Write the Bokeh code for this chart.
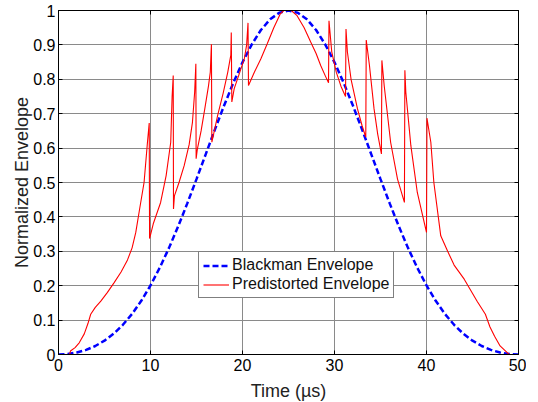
from bokeh.plotting import figure
from bokeh.models import (LinearAxis, FixedTicker, Legend, LegendItem, Range1d,
                          CustomJSTickFormatter, CustomLabelingPolicy)
from bokeh.embed import file_html
from bokeh.resources import INLINE

# ---- data ----
blackman_t = list(range(0, 51))
blackman_half = [0.0, 0.0014, 0.0058, 0.0134, 0.0247, 0.0402, 0.0605, 0.0863, 0.1180, 0.1561,
                 0.2008, 0.2519, 0.3092, 0.3720, 0.4393, 0.5098, 0.5819, 0.6539, 0.7237, 0.7895,
                 0.8492, 0.9010, 0.9432, 0.9744, 0.9935, 1.0]
blackman_v = blackman_half + blackman_half[-2::-1]

red_t = [0, 1.2, 1.3, 1.8, 2.25, 2.8, 3.2, 3.5, 4.0, 4.6, 5.3, 6.05, 6.8, 7.5, 8.0, 8.4, 8.8, 9.3, 9.67, 9.86, 9.9,
         10.3, 11.1, 11.7, 12.2, 12.35, 12.47, 12.5,
         12.6, 13.1, 13.66, 14.2, 14.56, 14.8, 14.93, 14.96,
         15.1, 15.5, 15.9, 16.3, 16.5, 16.62, 16.67,
         17.3, 17.9, 18.4, 18.73, 18.78, 18.84,
         19.1, 19.7, 20.2, 20.45, 20.6, 20.65,
         21.3, 22.0, 22.7, 23.4, 24.1, 24.5, 25.3, 25.9, 26.7, 27.4, 28.0, 28.5, 29.0, 29.35, 29.4,
         29.7, 30.2, 30.7, 31.2, 31.25,
         31.4, 31.8, 32.5, 33.0, 33.4, 33.45,
         33.8, 34.3, 34.7, 35.1, 35.15,
         35.4, 36.1, 36.85, 37.6, 37.65,
         37.75, 38.3, 39.0, 40.0, 40.05,
         40.47, 40.8, 41.55, 42.3, 43.0, 44.1, 45.5, 46.4, 46.9, 47.4, 48.0, 48.8, 49.0, 50]
red_v = [0, 0, 0.01, 0.02, 0.034, 0.06, 0.09, 0.117, 0.137, 0.155, 0.18, 0.209, 0.24, 0.275, 0.31, 0.355, 0.42, 0.5, 0.617, 0.673, 0.337,
         0.38, 0.442, 0.52, 0.617, 0.75, 0.811, 0.423,
         0.461, 0.50, 0.549, 0.61, 0.675, 0.763, 0.845, 0.569,
         0.598, 0.65, 0.714, 0.78, 0.821, 0.902, 0.617,
         0.695, 0.76, 0.821, 0.87, 0.936, 0.734,
         0.773, 0.82, 0.86, 0.90, 0.964, 0.782,
         0.821, 0.86, 0.904, 0.95, 0.99, 1.0, 1.0, 0.986, 0.95, 0.909, 0.875, 0.84, 0.81, 0.79, 0.97,
         0.88, 0.82, 0.78, 0.75, 0.946,
         0.88, 0.80, 0.714, 0.665, 0.632, 0.914,
         0.84, 0.714, 0.64, 0.583, 0.855,
         0.782, 0.617, 0.51, 0.442, 0.826,
         0.763, 0.607, 0.471, 0.355, 0.687,
         0.617, 0.5, 0.345, 0.30, 0.26, 0.219, 0.155, 0.117, 0.08, 0.053, 0.025, 0.005, 0, 0]

x_ticks = [0, 10, 20, 30, 40, 50]
y_ticks = [0, 0.1, 0.2, 0.3, 0.4, 0.5, 0.6, 0.7, 0.8, 0.9, 1.0]
x_label = "Time (µs)"
y_label = "Normalized Envelope"
legend_labels = ["Blackman Envelope", "Predistorted Envelope"]

FONT = "Liberation Sans"

p = figure(frame_width=460, frame_height=344, output_backend="svg", toolbar_location=None,
           x_range=Range1d(0, 50), y_range=Range1d(0, 1),
           min_border_left=58, min_border_right=8, min_border_top=10, min_border_bottom=42)
p.background_fill_color = "white"
p.border_fill_color = "white"
p.outline_line_color = "black"
p.outline_line_width = 1

fmt = CustomJSTickFormatter(code="return (Math.round(tick*10)/10).toString();")

p.xaxis.ticker = FixedTicker(ticks=x_ticks)
p.yaxis.ticker = FixedTicker(ticks=y_ticks)
p.yaxis.formatter = fmt
for ax in (p.xaxis, p.yaxis):
    ax.major_tick_in = 4
    ax.major_tick_out = 0
    ax.minor_tick_line_color = None
    ax.axis_line_color = "black"
    ax.major_tick_line_color = "black"
    ax.major_label_text_font = FONT
    ax.major_label_text_font_size = "16px"
    ax.major_label_text_color = "black"
    ax.axis_label_text_font = FONT
    ax.axis_label_text_font_size = "18px"
    ax.axis_label_text_font_style = "normal"
    ax.axis_label_text_color = "#222222"
p.xaxis.axis_label = x_label
p.yaxis.axis_label = y_label
p.xaxis.major_label_standoff = 4
p.yaxis.major_label_standoff = 3
p.xaxis.axis_label_standoff = 7
p.yaxis.axis_label_standoff = -2

no_labels = CustomLabelingPolicy(code="for (let i = 0; i < indices.size; i++) { indices.unset(i) } return indices")
for loc, tk in (("right", y_ticks), ("above", x_ticks)):
    ax = LinearAxis(ticker=FixedTicker(ticks=tk), major_label_policy=no_labels,
                    major_label_text_font_size="1px", major_label_text_color="black",
                    major_label_standoff=0, major_tick_in=4, major_tick_out=0,
                    minor_tick_line_color=None, axis_line_color="black")
    p.add_layout(ax, loc)

p.xgrid.ticker = FixedTicker(ticks=x_ticks)
p.ygrid.ticker = FixedTicker(ticks=y_ticks)
for g in (p.xgrid, p.ygrid):
    g.grid_line_color = "#8a8a8a"
    g.grid_line_width = 1

r_blue = p.line(blackman_t, blackman_v, line_color="#0000FF", line_width=2.5, line_dash="6 3")
r_red = p.line(red_t, red_v, line_color="#FF0000", line_width=1.1)

legend = Legend(items=[LegendItem(label=legend_labels[0], renderers=[r_blue]),
                       LegendItem(label=legend_labels[1], renderers=[r_red])],
                location=(140, 56), orientation="vertical")
legend.border_line_color = "black"
legend.border_line_width = 1
legend.background_fill_color = "white"
legend.background_fill_alpha = 1
legend.label_text_font = FONT
legend.label_text_font_size = "16px"
legend.label_text_color = "#111111"
legend.glyph_width = 26
legend.glyph_height = 17
legend.label_height = 17
legend.label_standoff = 3
legend.spacing = 1
legend.padding = 4
legend.margin = 0
p.add_layout(legend, "center")

open("out.html", "w").write(file_html(p, INLINE))
